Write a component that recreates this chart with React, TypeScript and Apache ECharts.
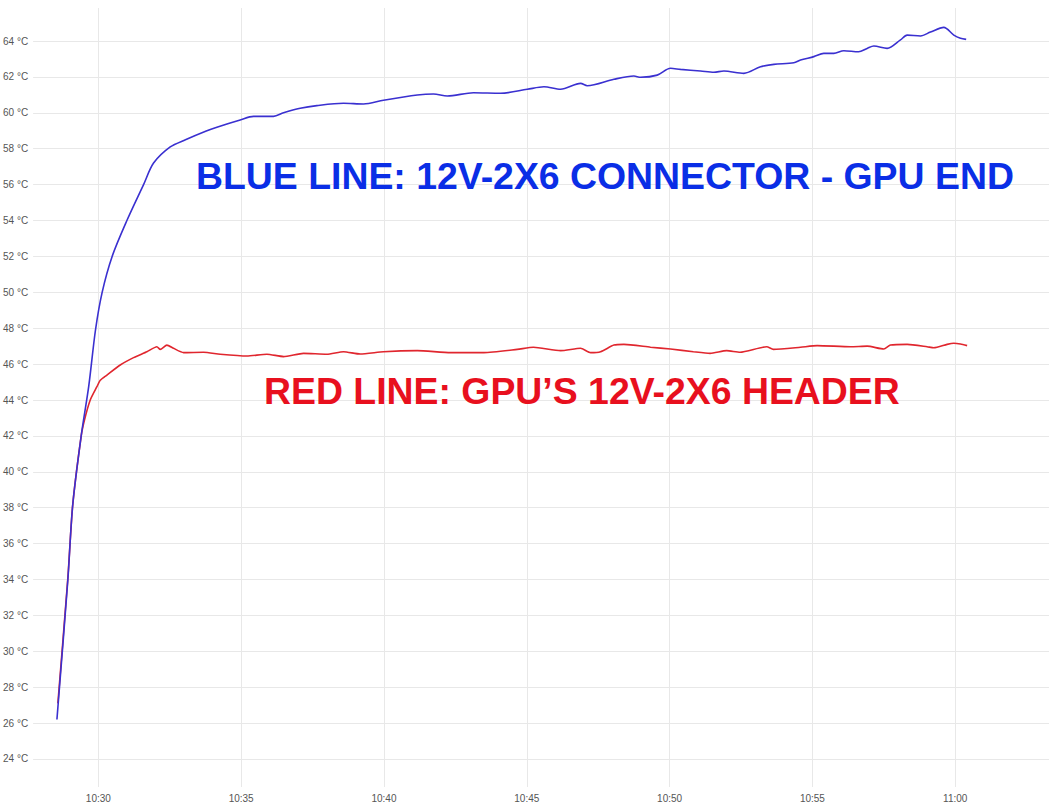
import React, { useEffect, useRef } from "react";
import * as echarts from "echarts";

const blueTimes = [
  "10:28:33", "10:28:56", "10:29:06", "10:29:24", "10:29:40", "10:29:54", "10:30:08", "10:30:29",
  "10:31:00", "10:31:35", "10:31:56", "10:32:31", "10:33:03", "10:33:48", "10:34:09", "10:34:58",
  "10:35:26", "10:36:08", "10:36:29", "10:37:04", "10:37:39", "10:38:35", "10:39:17", "10:39:59",
  "10:41:10", "10:41:44", "10:42:13", "10:43:08", "10:44:05", "10:45:01", "10:45:36", "10:46:11",
  "10:46:53", "10:47:07", "10:48:03", "10:48:45", "10:48:59", "10:49:34", "10:50:02", "10:50:23",
  "10:51:05", "10:51:33", "10:51:54", "10:52:36", "10:53:11", "10:53:39", "10:54:21", "10:54:35",
  "10:55:03", "10:55:24", "10:55:45", "10:56:06", "10:56:37", "10:56:55", "10:57:09", "10:57:37",
  "10:58:05", "10:58:19", "10:58:47", "10:59:08", "10:59:36", "10:59:57", "11:00:11", "11:00:23",
];
const blueTemps = [
  26.2, 34.0, 38.1, 42.0, 44.8, 47.9, 50.0, 52.0,
  54.0, 56.0, 57.2, 58.1, 58.5, 59.0, 59.2, 59.6,
  59.8, 59.8, 60.0, 60.25, 60.4, 60.53, 60.49, 60.7,
  60.99, 61.05, 60.94, 61.12, 61.09, 61.31, 61.45, 61.31,
  61.64, 61.51, 61.87, 62.05, 61.98, 62.1, 62.48, 62.42,
  62.33, 62.26, 62.33, 62.2, 62.57, 62.7, 62.79, 62.94,
  63.13, 63.31, 63.31, 63.46, 63.4, 63.59, 63.72, 63.59,
  64.06, 64.33, 64.28, 64.5, 64.76, 64.33, 64.15, 64.09,
];

const redTimes = [
  "10:28:35", "10:28:56", "10:29:06", "10:29:24", "10:29:31", "10:29:43", "10:29:57", "10:30:04",
  "10:30:18", "10:30:46", "10:31:14", "10:31:42", "10:32:03", "10:32:10", "10:32:24", "10:32:38",
  "10:32:59", "10:33:41", "10:34:16", "10:35:12", "10:35:54", "10:36:29", "10:37:11", "10:38:00",
  "10:38:35", "10:39:10", "10:39:59", "10:41:10", "10:42:20", "10:43:30", "10:44:40", "10:45:14",
  "10:46:11", "10:46:53", "10:47:14", "10:47:35", "10:48:03", "10:48:24", "10:49:20", "10:50:02",
  "10:50:50", "10:51:25", "10:52:00", "10:52:28", "10:53:24", "10:53:38", "10:54:35", "10:55:10",
  "10:56:20", "10:56:55", "10:57:30", "10:57:44", "10:58:19", "10:59:01", "10:59:15", "10:59:43",
  "10:59:57", "11:00:11", "11:00:25",
];
const redTemps = [
  27.1, 34.1, 38.1, 42.0, 42.9, 44.0, 44.74, 45.1,
  45.39, 45.95, 46.36, 46.69, 46.97, 46.82, 47.06, 46.88,
  46.64, 46.66, 46.55, 46.45, 46.55, 46.42, 46.6, 46.55,
  46.69, 46.56, 46.69, 46.75, 46.64, 46.64, 46.82, 46.94,
  46.75, 46.88, 46.64, 46.69, 47.06, 47.1, 46.94, 46.84,
  46.69, 46.6, 46.75, 46.66, 46.97, 46.82, 46.94, 47.03,
  46.97, 47.0, 46.84, 47.06, 47.1, 46.97, 46.91, 47.1,
  47.16, 47.12, 47.03,
];

const xRange = ["10:27:43", "11:03:17"];
const yRange = [22.44, 65.84];

const blueLabel = "BLUE LINE: 12V-2X6 CONNECTOR - GPU END";
const redLabel = "RED LINE: GPU\u2019S 12V-2X6 HEADER";

const toSec = (s: string) => {
  const [h, m, sec] = s.split(":").map(Number);
  return h * 3600 + m * 60 + sec;
};
const fmtTime = (v: number) => {
  const h = Math.floor(v / 3600);
  const m = Math.round((v - h * 3600) / 60);
  return `${h}:${String(m).padStart(2, "0")}`;
};

export default function App() {
  const ref = useRef<HTMLDivElement>(null);
  useEffect(() => {
    if (!ref.current) return;
    const chart = echarts.init(ref.current, undefined, { renderer: "svg" });
    const font = '"Liberation Sans", Arial, sans-serif';
    chart.setOption({
      animation: false,
      backgroundColor: "#ffffff",
      grid: { left: 33, right: 0, top: 8, bottom: 23, containLabel: false },
      xAxis: {
        type: "value",
        min: toSec(xRange[0]),
        max: toSec(xRange[1]),
        splitNumber: 7,
        axisLine: { show: false },
        axisTick: { show: false },
        axisLabel: {
          color: "#555",
          fontSize: 10,
          fontFamily: font,
          margin: 6,
          showMinLabel: false,
          showMaxLabel: false,
          formatter: (v: number) => fmtTime(v),
        },
        splitLine: {
          show: true,
          showMinLine: false,
          showMaxLine: false,
          lineStyle: { color: "#e8e8e8", width: 1 },
        },
      },
      yAxis: {
        type: "value",
        min: yRange[0],
        max: yRange[1],
        splitNumber: 22,
        axisLine: { show: false },
        axisTick: { show: false },
        axisLabel: {
          color: "#555",
          fontSize: 10,
          fontFamily: font,
          margin: 5,
          showMinLabel: false,
          showMaxLabel: false,
          formatter: (v: number) => `${v} \u00b0C`,
        },
        splitLine: {
          show: true,
          showMinLine: false,
          showMaxLine: false,
          lineStyle: { color: "#e8e8e8", width: 1 },
        },
      },
      series: [
        {
          type: "line",
          name: "Red",
          data: redTimes.map((t, i) => [toSec(t), redTemps[i]]),
          showSymbol: false,
          symbol: "none",
          smooth: 0.2,
          lineStyle: { color: "#e0262e", width: 1.6 },
          z: 2,
        },
        {
          type: "line",
          name: "Blue",
          data: blueTimes.map((t, i) => [toSec(t), blueTemps[i]]),
          showSymbol: false,
          symbol: "none",
          smooth: 0.3,
          lineStyle: { color: "#3a30d0", width: 1.6 },
          z: 3,
        },
      ],
      graphic: [
        {
          type: "text",
          x: 196,
          y: 176,
          z: 100,
          zlevel: 1,
          style: {
            text: blueLabel,
            fill: "#0a2ee6",
            font: `bold 37.4px ${font}`,
            verticalAlign: "middle",
            align: "left",
          },
        },
        {
          type: "text",
          x: 264,
          y: 391,
          z: 100,
          zlevel: 1,
          style: {
            text: redLabel,
            fill: "#e8101e",
            font: `bold 37.4px ${font}`,
            verticalAlign: "middle",
            align: "left",
          },
        },
      ],
    });
    return () => chart.dispose();
  }, []);
  return (
    <div
      ref={ref}
      style={{ position: "fixed", left: 0, top: 0, width: 1049, height: 810, background: "#fff" }}
    />
  );
}
